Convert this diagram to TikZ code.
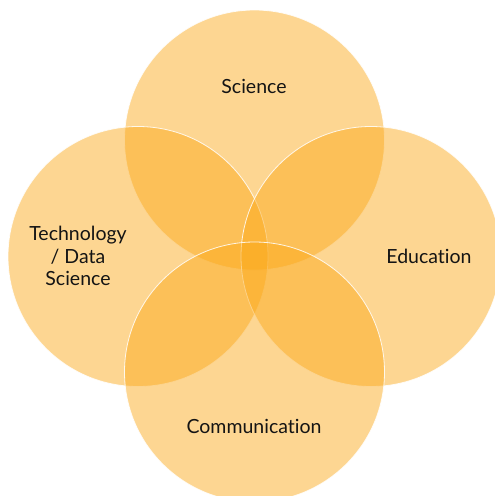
\documentclass[tikz,border=0pt]{standalone}
\usepackage{fontspec}
\setmainfont[Ligatures=NoCommon]{Lato}
\definecolor{vennorange}{RGB}{251,168,24}
\tikzset{
  venn/.style={circle, minimum size=260pt, inner sep=0pt, fill=vennorange, fill opacity=0.47, draw=white, draw opacity=0.85, line width=0.8pt},
  vlabel/.style={align=center, font=\fontsize{19.5}{22.5}\selectfont, text=black!92}
}
\begin{document}
\begin{tikzpicture}[x=1pt,y=-1pt]
\useasboundingbox (0,0) rectangle (495,496);
\clip (0,0) rectangle (495,496);
\node[venn] (sci) at (254.5,140) {};
\node[venn] (tech) at (138,256.5) {};
\node[venn] (edu) at (371,256.5) {};
\node[venn] (com) at (254.5,372) {};
\node[vlabel] (lsci) at (254,86) {Science};
\node[vlabel] (ltech) at (78,256) {Technology\\/ Data\\Science};
\node[vlabel] (ledu) at (429,256) {Education};
\node[vlabel] (lcom) at (254,426) {Communication};
\end{tikzpicture}
\end{document}
